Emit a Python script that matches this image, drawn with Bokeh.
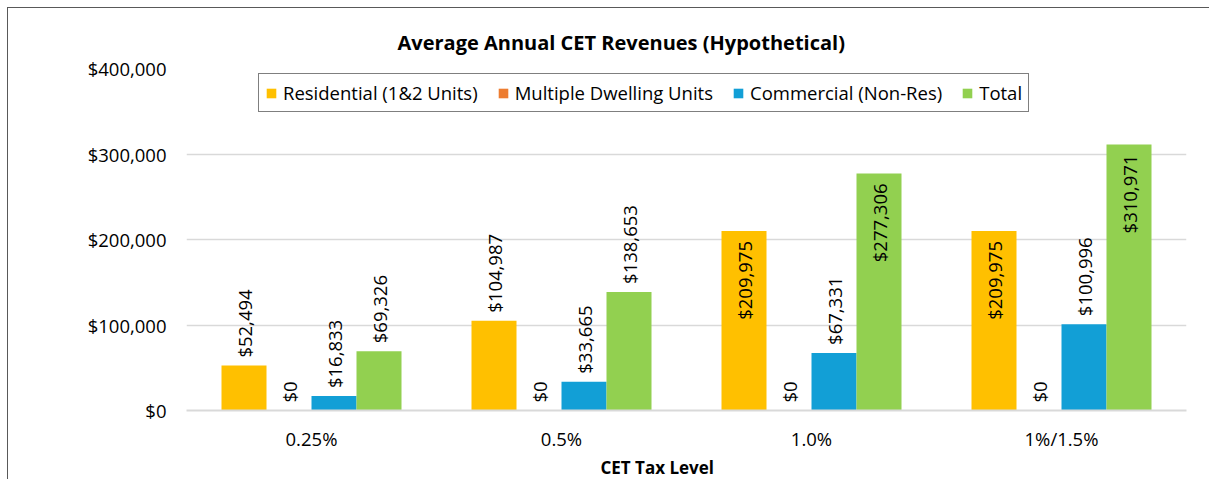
from bokeh.plotting import figure
from bokeh.models import (ColumnDataSource, FactorRange, NumeralTickFormatter,
                          Legend, LegendItem, Title, FixedTicker)
from bokeh.transform import dodge
from bokeh.core.properties import value
from bokeh.embed import file_html
from bokeh.resources import INLINE
import math

categories = ["0.25%", "0.5%", "1.0%", "1%/1.5%"]
series_names = ["Residential (1&2 Units)", "Multiple Dwelling Units",
                "Commercial (Non-Res)", "Total"]
residential = [52494, 104987, 209975, 209975]
multiple_dwelling = [0, 0, 0, 0]
commercial = [16833, 33665, 67331, 100996]
total = [69326, 138653, 277306, 310971]
y_ticks = [0, 100000, 200000, 300000, 400000]
chart_title = "Average Annual CET Revenues (Hypothetical)"
x_title = "CET Tax Level"

colors = ["#FFC000", "#ED7D31", "#129FD6", "#92D050"]
series_values = [residential, multiple_dwelling, commercial, total]
offsets = [-0.27, -0.09, 0.09, 0.27]
BAR_W = 0.18
FONT = "Open Sans"
FS = "18.5px"

p = figure(x_range=FactorRange(factors=categories, range_padding=0),
           y_range=(0, 400000), width=1202, height=472,
           output_backend="svg", toolbar_location=None,
           min_border_left=178, min_border_right=24,
           min_border_top=60, min_border_bottom=70)
p.styles = {"border-top": "1px solid #595959", "border-left": "1px solid #595959",
            "margin-left": "7px", "margin-top": "7px"}
p.outline_line_color = None
p.background_fill_color = "white"
p.border_fill_color = "white"

items = []
for name, vals, col, off in zip(series_names, series_values, colors, offsets):
    src = ColumnDataSource(dict(cat=categories, val=vals))
    r = p.vbar(x=dodge("cat", off, range=p.x_range), top="val", width=BAR_W,
               source=src, fill_color=col, line_color=None)
    items.append(LegendItem(label=name, renderers=[r]))
    out_idx = [i for i, v in enumerate(vals) if v <= 200000]
    in_idx = [i for i, v in enumerate(vals) if v > 200000]
    for idx, align, yoff in ((out_idx, "left", -8), (in_idx, "right", 10)):
        if not idx:
            continue
        s2 = ColumnDataSource(dict(
            cat=[categories[i] for i in idx], val=[vals[i] for i in idx],
            lab=["${:,}".format(vals[i]) for i in idx]))
        p.text(x=dodge("cat", off, range=p.x_range), y="val", text="lab",
               source=s2, angle=math.pi / 2, text_align=align,
               text_baseline="middle", y_offset=yoff,
               text_font=value(FONT), text_font_size=FS, text_color="#000000")

legend = Legend(items=items, orientation="horizontal", location=(72, 298),
                border_line_color="#000000", border_line_width=1,
                label_text_font=FONT, label_text_font_size=FS,
                label_text_color="#000000",
                glyph_width=12, glyph_height=12, label_standoff=6,
                spacing=19, padding=6, margin=0, label_height=19)
p.add_layout(legend, "center")

p.title.text = chart_title
p.title.text_font = FONT
p.title.text_font_size = "20px"
p.title.text_font_style = "bold"
p.title.text_color = "#000000"
p.title.align = "left"
p.title.offset = 211
p.title.vertical_align = "middle"
p.title.standoff = 24

p.yaxis.ticker = FixedTicker(ticks=y_ticks)
p.yaxis.formatter = NumeralTickFormatter(format="$0,0")
p.yaxis.major_label_text_font = FONT
p.yaxis.major_label_text_font_size = FS
p.yaxis.major_label_text_color = "#000000"
p.yaxis.major_label_standoff = 20
p.yaxis.major_tick_out = 0
p.yaxis.major_tick_in = 0
p.yaxis.axis_line_color = None
p.yaxis.major_tick_line_color = None
p.yaxis.minor_tick_line_color = None

p.xaxis.major_label_text_font = FONT
p.xaxis.major_label_text_font_size = FS
p.xaxis.major_label_text_color = "#000000"
p.xaxis.major_label_standoff = 15
p.xaxis.major_tick_out = 0
p.xaxis.major_tick_in = 0
p.xaxis.axis_line_color = "#D9D9D9"
p.xaxis.axis_line_width = 2
p.xaxis.major_tick_line_color = None
p.xaxis.minor_tick_line_color = None

p.xgrid.grid_line_color = None
p.ygrid.grid_line_color = "#D9D9D9"
p.ygrid.grid_line_width = 1.5

xt = Title(text=x_title, align="left", offset=414,
           text_font=FONT, text_font_size="17px", text_font_style="bold",
           text_color="#000000", standoff=0, text_line_height=1.0)
p.add_layout(xt, "below")

open("out.html", "w").write(file_html(p, INLINE))
